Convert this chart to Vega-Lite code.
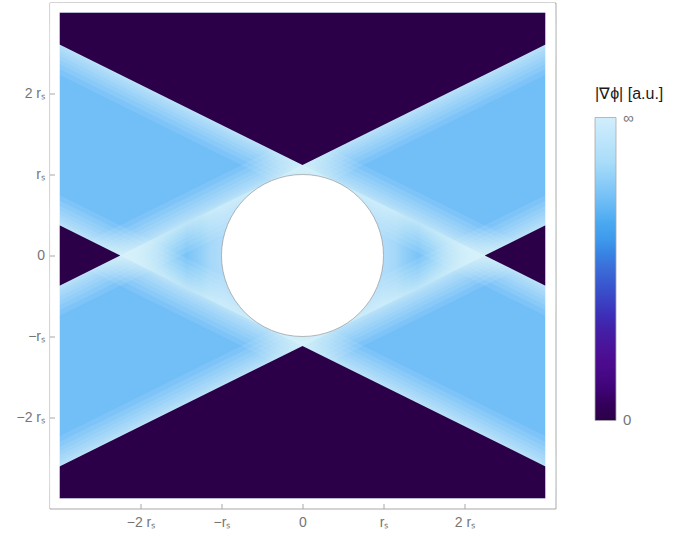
{
  "$schema": "https://vega.github.io/schema/vega-lite/v6.json",
  "width": 506,
  "height": 506,
  "autosize": "none",
  "padding": {"left": 49.5, "top": 2.5, "right": 122.5, "bottom": 29.5},
  "background": "white",
  "config": {
    "view": {"stroke": "#a8a8a8", "strokeWidth": 1, "fill": "white"},
    "font": "Liberation Sans"
  },
  "datasets": {
    "field": [{"x": -3, "x2": 3, "y": -3, "y2": 3, "v": 0.73}],
    "lens": [
      {"x": -2.25, "y": 0, "y2": 0},
      {"x": 0, "y": 1.1163, "y2": -1.1163},
      {"x": 2.25, "y": 0, "y2": 0}
    ],
    "caustics": [
      {"line": "L+", "x": -3.6, "y": -0.6698}, {"line": "L+", "x": 3.6, "y": 2.9024},
      {"line": "L-", "x": -3.6, "y": 0.6698}, {"line": "L-", "x": 3.6, "y": -2.9024},
      {"line": "R+", "x": -3.6, "y": 2.9024}, {"line": "R+", "x": 3.6, "y": -0.6698},
      {"line": "R-", "x": -3.6, "y": -2.9024}, {"line": "R-", "x": 3.6, "y": 0.6698}
    ],
    "shadow": [
      {"part": "top", "x": -3, "y": 2.6047, "y2": 3, "v": 0},
      {"part": "top", "x": 0, "y": 1.1163, "y2": 3, "v": 0},
      {"part": "top", "x": 3, "y": 2.6047, "y2": 3, "v": 0},
      {"part": "bottom", "x": -3, "y": -3, "y2": -2.6047, "v": 0},
      {"part": "bottom", "x": 0, "y": -3, "y2": -1.1163, "v": 0},
      {"part": "bottom", "x": 3, "y": -3, "y2": -2.6047, "v": 0},
      {"part": "left", "x": -3, "y": -0.3721, "y2": 0.3721, "v": 0},
      {"part": "left", "x": -2.25, "y": 0, "y2": 0, "v": 0},
      {"part": "right", "x": 2.25, "y": 0, "y2": 0, "v": 0},
      {"part": "right", "x": 3, "y": -0.3721, "y2": 0.3721, "v": 0}
    ],
    "mat": [
      {"x": -3.116, "x2": -3, "y": -3.116, "y2": 3.116},
      {"x": 3, "x2": 3.116, "y": -3.116, "y2": 3.116},
      {"x": -3, "x2": 3, "y": 3, "y2": 3.116},
      {"x": -3, "x2": 3, "y": -3.116, "y2": -3}
    ],
    "body": [{"x": 0, "y": 0}]
  },
  "encoding": {
    "x": {
      "field": "x", "type": "quantitative",
      "scale": {"domain": [-3.1235, 3.1235], "nice": false, "zero": false},
      "axis": {
        "title": null, "values": [-2, -1, 0, 1, 2], "grid": false, "domain": false,
        "zindex": 1, "tickSize": -5, "tickColor": "#a8a8a8", "tickWidth": 1,
        "labelColor": "#757575", "labelFont": "Liberation Sans", "labelFontSize": 14,
        "labelPadding": 12,
        "labelExpr": "datum.value === 0 ? '0' : datum.value === 1 ? 'rₛ' : datum.value === -1 ? '−rₛ' : datum.value === 2 ? '2 rₛ' : '−2 rₛ'"
      }
    },
    "y": {
      "field": "y", "type": "quantitative", "stack": null,
      "scale": {"domain": [-3.1235, 3.1235], "nice": false, "zero": false},
      "axis": {
        "title": null, "values": [-2, -1, 0, 1, 2], "grid": false, "domain": false,
        "zindex": 1, "tickSize": -5, "tickColor": "#a8a8a8", "tickWidth": 1,
        "labelColor": "#757575", "labelFont": "Liberation Sans", "labelFontSize": 14,
        "labelPadding": 10,
        "labelExpr": "datum.value === 0 ? '0' : datum.value === 1 ? 'rₛ' : datum.value === -1 ? '−rₛ' : datum.value === 2 ? '2 rₛ' : '−2 rₛ'"
      }
    }
  },
  "layer": [
    {
      "data": {"name": "field"},
      "mark": {"type": "rect"},
      "encoding": {
        "x2": {"field": "x2"},
        "y2": {"field": "y2"},
        "color": {
          "field": "v", "type": "quantitative",
          "scale": {
            "domain": [0, 0.05, 0.12, 0.2, 0.28, 0.35, 0.42, 0.5, 0.6, 0.67, 0.73, 0.85, 1],
            "range": ["#2c0048", "#330058", "#420680", "#4d0c90", "#4519a0", "#3c30b8", "#3a4cc8", "#3c6cd8", "#3f9aec", "#50aef2", "#72bef7", "#a8dcf9", "#d2eefd"]
          },
          "legend": {
            "title": "|∇ϕ| [a.u.]", "orient": "none", "legendX": 545.5, "legendY": 83,
            "direction": "vertical", "gradientLength": 303, "gradientThickness": 21,
            "gradientStrokeColor": "#a8a8a8", "gradientStrokeWidth": 0.8,
            "values": [0.0005, 0.9995], "labelOverlap": false,
            "labelExpr": "datum.value < 0.5 ? '0' : '∞'",
            "labelFont": "Liberation Sans", "labelFontSize": 15, "labelColor": "#757575", "labelOffset": 7,
            "titleFont": "Liberation Sans", "titleFontSize": 16, "titleFontWeight": "normal",
            "titleColor": "#1a1a1a", "titlePadding": 16
          }
        }
      }
    },
    {
      "data": {"name": "lens"},
      "mark": {
        "type": "area",
        "color": {
          "gradient": "linear", "x1": 0, "y1": 0, "x2": 1, "y2": 0,
          "stops": [
            {"offset": 0, "color": "#c8e8fc"},
            {"offset": 0.054, "color": "#b8e1fa"},
            {"offset": 0.109, "color": "#a0d6f9"},
            {"offset": 0.15, "color": "#88ccf8"},
            {"offset": 0.183, "color": "#7cc4f7"},
            {"offset": 0.219, "color": "#90cff8"},
            {"offset": 0.246, "color": "#a6d8f9"},
            {"offset": 0.28, "color": "#b0dcfa"},
            {"offset": 0.5, "color": "#a8dafa"},
            {"offset": 0.72, "color": "#b0dcfa"},
            {"offset": 0.754, "color": "#a6d8f9"},
            {"offset": 0.781, "color": "#90cff8"},
            {"offset": 0.817, "color": "#7cc4f7"},
            {"offset": 0.85, "color": "#88ccf8"},
            {"offset": 0.891, "color": "#a0d6f9"},
            {"offset": 0.946, "color": "#b8e1fa"},
            {"offset": 1, "color": "#c8e8fc"}
          ]
        }
      },
      "encoding": {"y2": {"field": "y2"}}
    },
    {"data": {"name": "caustics"}, "mark": {"type": "line", "clip": true, "color": "#e0f3fe", "opacity": 0.12, "strokeWidth": 54, "strokeCap": "butt"}, "encoding": {"detail": {"field": "line"}}},
    {"data": {"name": "caustics"}, "mark": {"type": "line", "clip": true, "color": "#e0f3fe", "opacity": 0.12, "strokeWidth": 44, "strokeCap": "butt"}, "encoding": {"detail": {"field": "line"}}},
    {"data": {"name": "caustics"}, "mark": {"type": "line", "clip": true, "color": "#e0f3fe", "opacity": 0.12, "strokeWidth": 35, "strokeCap": "butt"}, "encoding": {"detail": {"field": "line"}}},
    {"data": {"name": "caustics"}, "mark": {"type": "line", "clip": true, "color": "#e0f3fe", "opacity": 0.12, "strokeWidth": 27, "strokeCap": "butt"}, "encoding": {"detail": {"field": "line"}}},
    {"data": {"name": "caustics"}, "mark": {"type": "line", "clip": true, "color": "#e0f3fe", "opacity": 0.12, "strokeWidth": 20, "strokeCap": "butt"}, "encoding": {"detail": {"field": "line"}}},
    {"data": {"name": "caustics"}, "mark": {"type": "line", "clip": true, "color": "#e0f3fe", "opacity": 0.12, "strokeWidth": 14, "strokeCap": "butt"}, "encoding": {"detail": {"field": "line"}}},
    {"data": {"name": "caustics"}, "mark": {"type": "line", "clip": true, "color": "#e0f3fe", "opacity": 0.12, "strokeWidth": 9, "strokeCap": "butt"}, "encoding": {"detail": {"field": "line"}}},
    {"data": {"name": "caustics"}, "mark": {"type": "line", "clip": true, "color": "#e0f3fe", "opacity": 0.12, "strokeWidth": 5, "strokeCap": "butt"}, "encoding": {"detail": {"field": "line"}}},
    {"data": {"name": "caustics"}, "mark": {"type": "line", "clip": true, "color": "#e0f3fe", "opacity": 0.12, "strokeWidth": 2, "strokeCap": "butt"}, "encoding": {"detail": {"field": "line"}}},
    {
      "data": {"name": "shadow"},
      "mark": {"type": "area"},
      "encoding": {
        "y2": {"field": "y2"},
        "detail": {"field": "part"},
        "color": {"field": "v", "type": "quantitative", "legend": null}
      }
    },
    {
      "data": {"name": "mat"},
      "mark": {"type": "rect", "color": "white"},
      "encoding": {"x2": {"field": "x2"}, "y2": {"field": "y2"}}
    },
    {
      "data": {"name": "body"},
      "mark": {"type": "point", "shape": "circle", "size": 26244, "filled": true, "fill": "white", "stroke": "#9a9a9a", "strokeWidth": 0.7, "opacity": 1}
    }
  ]
}
